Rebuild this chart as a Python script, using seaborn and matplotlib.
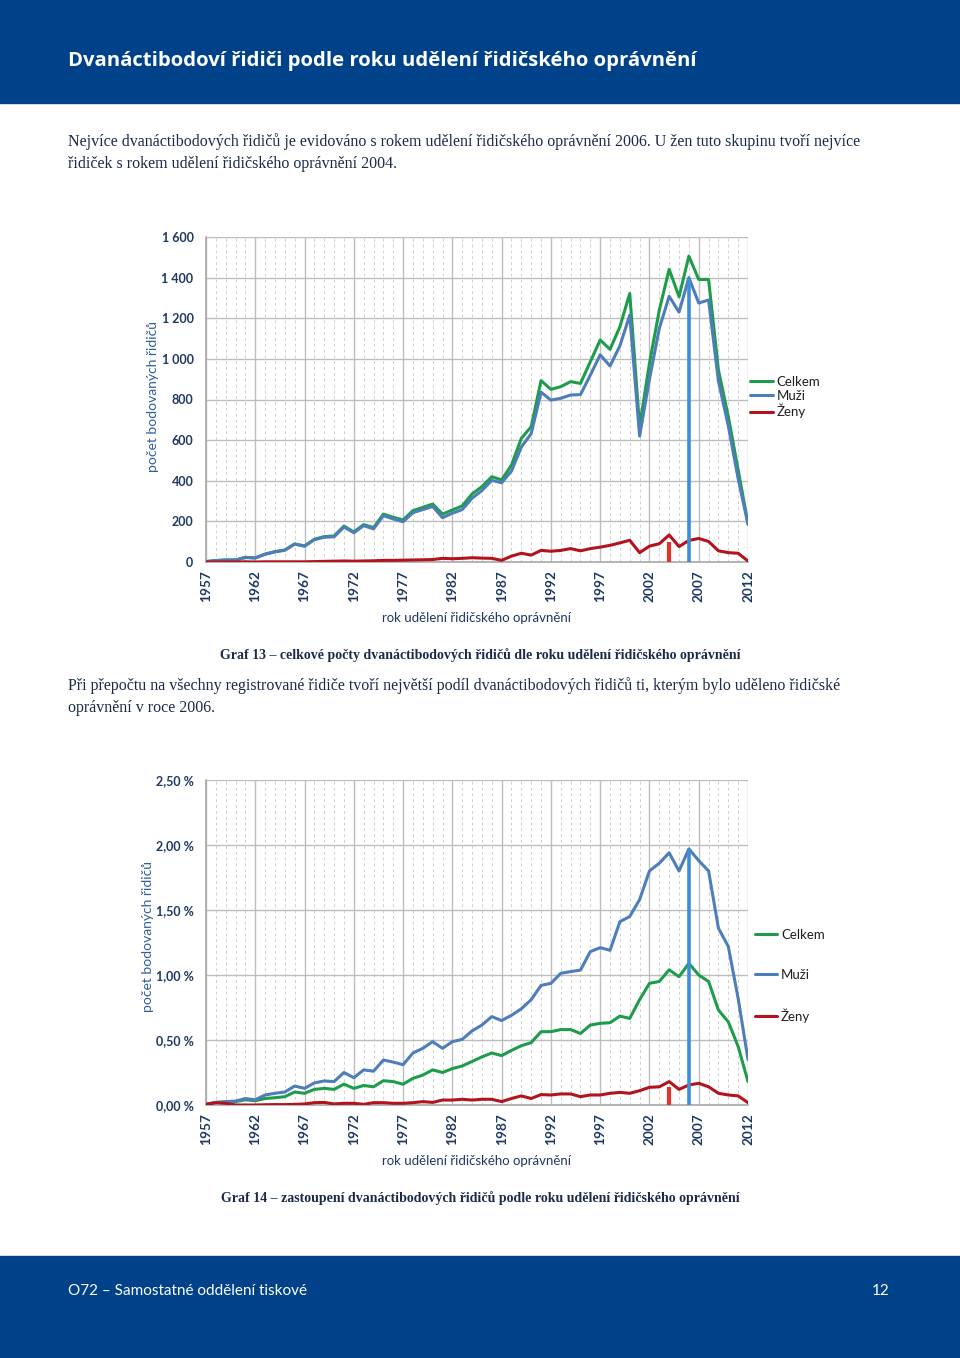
import numpy as np
import pandas as pd
import matplotlib
matplotlib.use("Agg")
import matplotlib.pyplot as plt
from matplotlib.patches import Rectangle
from matplotlib.ticker import MultipleLocator, FuncFormatter
import seaborn as sns

# --- data ---
years = list(range(1957, 2013))
year_ticks = years[::5]

celkem_pocet = [2, 7, 10, 10, 23, 20, 39, 51, 59, 89, 79, 112, 125, 128, 177, 148, 184, 169,
                236, 220, 207, 253, 269, 285, 236, 256, 276, 335, 371, 420, 404, 477, 609, 666,
                893, 850, 863, 888, 879, 986, 1093, 1047, 1158, 1322, 666, 978, 1240, 1441, 1306,
                1506, 1391, 1391, 945, 716, 453, 190]
muzi_pocet = [2, 7, 10, 10, 22, 20, 38, 50, 58, 88, 78, 110, 122, 124, 172, 144, 179, 163,
              228, 212, 198, 243, 258, 273, 218, 240, 258, 314, 352, 402, 390, 448, 566, 632,
              836, 797, 806, 822, 824, 920, 1020, 965, 1064, 1215, 620, 900, 1150, 1308, 1230,
              1400, 1275, 1290, 890, 670, 410, 185]
zeny_pocet = [0, 0, 0, 0, 1, 0, 1, 1, 1, 1, 1, 2, 3, 4, 5, 4, 5, 6,
              8, 8, 9, 10, 11, 12, 18, 16, 18, 21, 19, 18, 8, 29, 43, 34,
              57, 53, 57, 66, 55, 66, 73, 82, 94, 107, 46, 78, 90, 133, 76,
              106, 116, 101, 55, 46, 43, 5]

celkem_podil = [0.005, 0.02, 0.02, 0.026, 0.04, 0.033, 0.05, 0.056, 0.064, 0.10, 0.09, 0.12,
                0.128, 0.12, 0.16, 0.128, 0.15, 0.14, 0.187, 0.18, 0.16, 0.205, 0.23, 0.27,
                0.25, 0.28, 0.30, 0.335, 0.37, 0.40, 0.38, 0.42, 0.456, 0.48, 0.564, 0.564,
                0.58, 0.58, 0.55, 0.615, 0.628, 0.633, 0.684, 0.666, 0.81, 0.936, 0.95, 1.04,
                0.987, 1.09, 1.00, 0.95, 0.73, 0.64, 0.45, 0.18]
muzi_podil = [0.005, 0.02, 0.026, 0.03, 0.05, 0.04, 0.077, 0.09, 0.10, 0.146, 0.128, 0.17,
              0.185, 0.18, 0.25, 0.21, 0.27, 0.26, 0.346, 0.33, 0.31, 0.40, 0.436, 0.487,
              0.436, 0.487, 0.505, 0.57, 0.615, 0.68, 0.65, 0.69, 0.74, 0.81, 0.92, 0.936,
              1.013, 1.026, 1.038, 1.18, 1.21, 1.19, 1.41, 1.45, 1.58, 1.80, 1.86, 1.94,
              1.80, 1.97, 1.88, 1.80, 1.36, 1.22, 0.82, 0.35]
zeny_podil = [0.005, 0.018, 0.013, 0.0, 0.0, 0.0, 0.002, 0.003, 0.003, 0.005, 0.008, 0.018,
              0.02, 0.008, 0.013, 0.013, 0.005, 0.018, 0.018, 0.013, 0.013, 0.018, 0.026, 0.02,
              0.038, 0.038, 0.044, 0.038, 0.044, 0.044, 0.026, 0.05, 0.07, 0.05, 0.08, 0.077,
              0.085, 0.085, 0.064, 0.077, 0.077, 0.09, 0.097, 0.09, 0.11, 0.136, 0.14, 0.18,
              0.12, 0.154, 0.167, 0.14, 0.09, 0.077, 0.07, 0.018]

series = ["Celkem", "Muži", "Ženy"]
# highlighted years (max for women / for men) with marker heights
peak_years = [2004, 2006]
peak_pocet = [100, 1400]
peak_podil = [0.14, 1.97]

colors = {"Celkem": "#1d9d4b", "Muži": "#4d7dba", "Ženy": "#b3131c"}
peak_colors = ["#e2322c", "#3b8fd8"]

NAVY = "#1f3864"
HEADER = "#00428a"

sns.set_style("white")
plt.rcParams["font.family"] = ["Lato", "DejaVu Sans"]

W, H = 960, 1358
fig = plt.figure(figsize=(W / 100, H / 100), dpi=100)


def fx(px):
    return px / W


def fy(py):
    return 1 - py / H


# page decoration
fig.patches.append(Rectangle((0, fy(103)), 1, 103 / H, transform=fig.transFigure,
                             color=HEADER, zorder=0))
fig.patches.append(Rectangle((0, 0), 1, (H - 1256) / H, transform=fig.transFigure,
                             color=HEADER, zorder=0))
fig.text(fx(68), fy(61), "Dvanáctibodoví řidiči podle roku udělení řidičského oprávnění",
         color="white", fontsize=14.6, fontweight="bold", family=["Open Sans", "DejaVu Sans"],
         va="center")

serif = ["Liberation Serif", "DejaVu Serif"]
body_color = "#1c2a4a"
body_size = 11.5
fig.text(fx(68), fy(142), "Nejvíce dvanáctibodových řidičů je evidováno s rokem udělení řidičského "
         "oprávnění 2006. U žen tuto skupinu tvoří nejvíce", family=serif, fontsize=body_size,
         color=body_color, va="center")
fig.text(fx(68), fy(164), "řidiček s rokem udělení řidičského oprávnění 2004.", family=serif,
         fontsize=body_size, color=body_color, va="center")
fig.text(fx(480), fy(655), "Graf 13 – celkové počty dvanáctibodových řidičů dle roku udělení "
         "řidičského oprávnění", family=serif, fontsize=10, fontweight="bold",
         color=body_color, va="center", ha="center")
fig.text(fx(68), fy(686), "Při přepočtu na všechny registrované řidiče tvoří největší podíl "
         "dvanáctibodových řidičů ti, kterým bylo uděleno řidičské", family=serif,
         fontsize=body_size, color=body_color, va="center")
fig.text(fx(68), fy(708), "oprávnění v roce 2006.", family=serif, fontsize=body_size,
         color=body_color, va="center")
fig.text(fx(480), fy(1198), "Graf 14 – zastoupení dvanáctibodových řidičů podle roku udělení "
         "řidičského oprávnění", family=serif, fontsize=10, fontweight="bold",
         color=body_color, va="center", ha="center")
fig.text(fx(68), fy(1291), "O72 – Samostatné oddělení tiskové", color="white", fontsize=11,
         va="center")
fig.text(fx(890), fy(1291), "12", color="white", fontsize=11, va="center", ha="right")


def make_chart(rect, values, ymax, ystep, fmt, peaks, legend_y, legend_spacing, legend_x,
               ylabel_pad):
    ax = fig.add_axes(rect)
    df = pd.DataFrame({
        "rok": years * 3,
        "hodnota": values[0] + values[1] + values[2],
        "serie": [s for s in series for _ in years],
    })
    sns.lineplot(data=df, x="rok", y="hodnota", hue="serie", hue_order=series,
                 palette=colors, linewidth=2.2, ax=ax, zorder=3)
    # highlighted peaks
    ax.vlines(peak_years, 0, peaks, colors=peak_colors, linewidth=[3, 2.6], zorder=4)

    ax.set_xlim(years[0], years[-1])
    ax.set_ylim(0, ymax)
    ax.set_xticks(year_ticks)
    ax.set_xticklabels([str(y) for y in year_ticks])
    ax.xaxis.set_minor_locator(MultipleLocator(1))
    ax.yaxis.set_major_locator(MultipleLocator(ystep))
    ax.yaxis.set_major_formatter(FuncFormatter(fmt))
    ax.grid(which="major", axis="both", color="#bdbdbd", linewidth=1.0, zorder=0)
    ax.grid(which="minor", axis="x", color="#cfcfcf", linewidth=0.7,
            linestyle=(0, (3, 3)), zorder=0)
    ax.set_axisbelow(True)
    for side in ["top", "right"]:
        ax.spines[side].set_visible(False)
    for side in ["left", "bottom"]:
        ax.spines[side].set_color("#a8a8a8")
        ax.spines[side].set_linewidth(1.2)

    ax.tick_params(axis="x", which="both", length=0, pad=6, labelsize=9.8,
                   labelcolor=NAVY, labelrotation=90)
    ax.tick_params(axis="y", which="major", length=5, color="#a8a8a8", direction="out",
                   pad=4, labelsize=9, labelcolor=NAVY)
    for lab in ax.get_xticklabels() + ax.get_yticklabels():
        lab.set_fontweight("bold")

    ax.set_xlabel("rok udělení řidičského oprávnění", fontsize=9.5, color=NAVY, labelpad=7)
    ax.set_ylabel("počet bodovaných řidičů", fontsize=10, color="#2f5e9e", labelpad=ylabel_pad)

    leg = ax.legend(loc="center left", bbox_to_anchor=(legend_x, legend_y), frameon=False,
                    handlelength=1.7, handletextpad=0.3, borderpad=0, borderaxespad=0,
                    labelspacing=legend_spacing, fontsize=9.5)
    for t in leg.get_texts():
        t.set_color("#1f1f1f")
    return ax


ax1 = make_chart([fx(206), fy(562), (748 - 206) / W, 325 / H],
                 [celkem_pocet, muzi_pocet, zeny_pocet], 1600, 200,
                 lambda v, p: f"{int(v):,}".replace(",", " "),
                 peak_pocet, 0.508, 0.15, 1.004, 1.5)
ax1.yaxis.label.set_position((0, 0.51))

ax2 = make_chart([fx(206), fy(1105), (748 - 206) / W, 325 / H],
                 [celkem_podil, muzi_podil, zeny_podil], 2.5, 0.5,
                 lambda v, p: f"{v:.2f}".replace(".", ",") + " %",
                 peak_podil, 0.397, 2.1, 1.012, 1.5)
ax2.yaxis.label.set_position((0, 0.52))

fig.savefig("out.png", dpi=100)
